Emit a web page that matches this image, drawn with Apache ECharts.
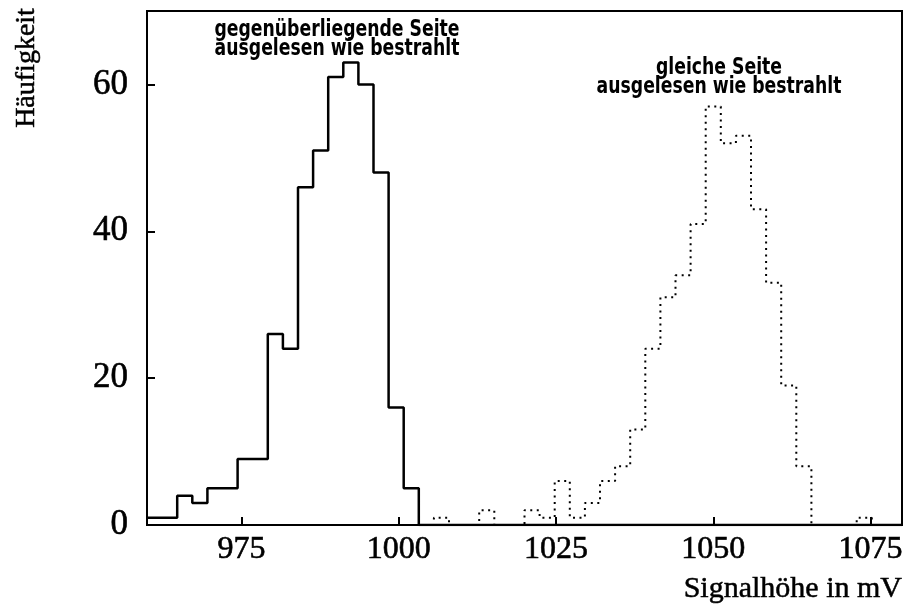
<!DOCTYPE html>
<html>
<head>
<meta charset="utf-8">
<script src="https://cdn.jsdelivr.net/npm/echarts@6/dist/echarts.min.js"></script>
<style>
  html, body { margin: 0; padding: 0; background: #fff; }
  #chart { width: 907px; height: 610px; }
</style>
</head>
<body>
<div id="chart"></div>
<script>
// Signal-height histograms: 50 bins of 2.4 mV from 960 to 1080 mV
const binStart = 960;
const binWidth = 2.4;

// read out on the side opposite to the irradiated one (solid)
const countsOpposite = [
  1, 1, 4, 3, 5, 5, 9, 9, 26, 24,
  46, 51, 61, 63, 60, 48, 16, 5, 0, 0,
  0, 0, 0, 0, 0, 0, 0, 0, 0, 0,
  0, 0, 0, 0, 0, 0, 0, 0, 0, 0,
  0, 0, 0, 0, 0, 0, 0, 0, 0, 0
];

// read out on the irradiated side (dotted)
const countsSame = [
  0, 0, 0, 0, 0, 0, 0, 0, 0, 0,
  0, 0, 0, 0, 0, 0, 0, 0, 0, 1,
  0, 0, 2, 0, 0, 2, 1, 6, 1, 3,
  6, 8, 13, 24, 31, 34, 41, 57, 52, 53,
  43, 33, 19, 8, 0, 0, 0, 1, 0, 0
];

const xTicks = [975, 1000, 1025, 1050, 1075];
const yTicks = [0, 20, 40, 60];

const xTitle = 'Signalhöhe in mV';
const yTitle = 'Häufigkeit';
const noteOpposite = ['gegenüberliegende Seite', 'ausgelesen wie bestrahlt'];
const noteSame = ['gleiche Seite', 'ausgelesen wie bestrahlt'];

// turn bin contents into step-line points at the bin edges
function histPoints(counts) {
  const pts = counts.map((c, i) => [+(binStart + i * binWidth).toFixed(2), c]);
  pts.push([+(binStart + counts.length * binWidth).toFixed(2), counts[counts.length - 1]]);
  return pts;
}

const serif = '"Liberation Serif", "Times New Roman", "DejaVu Serif", serif';
const sans = '"DejaVu Sans", sans-serif';

const chart = echarts.init(document.getElementById('chart'), null, { renderer: 'canvas' });

// narrow bold caption line, horizontally squeezed around its centre
function noteText(str, x, y) {
  return {
    type: 'text',
    x: x, y: y,
    scaleX: 0.75,
    style: {
      text: str,
      fill: '#000',
      font: 'bold 23px ' + sans,
      textAlign: 'center',
      textVerticalAlign: 'middle'
    }
  };
}

const plain = v => String(v);

chart.setOption({
  backgroundColor: '#fff',
  animation: false,
  grid: {
    left: 147, right: 5, top: 11, bottom: 85,
    show: true, borderColor: '#000', borderWidth: 2
  },
  xAxis: {
    type: 'value',
    min: 960, max: 1080,
    splitLine: { show: false },
    axisLine: { lineStyle: { color: '#000', width: 2 } },
    axisTick: { inside: true, length: 8, customValues: xTicks, lineStyle: { color: '#000', width: 2 } },
    axisLabel: {
      customValues: xTicks,
      formatter: plain,
      color: '#000', fontFamily: serif, fontSize: 32, margin: 9,
      textBorderColor: '#000', textBorderWidth: 0.6
    }
  },
  yAxis: {
    type: 'value',
    min: 0, max: 70,
    splitLine: { show: false },
    axisLine: { show: true, lineStyle: { color: '#000', width: 2 } },
    axisTick: { show: true, inside: true, length: 8, customValues: yTicks, lineStyle: { color: '#000', width: 2 } },
    axisLabel: {
      customValues: yTicks,
      formatter: plain,
      color: '#000', fontFamily: serif, fontSize: 35, margin: 19,
      textBorderColor: '#000', textBorderWidth: 0.6
    }
  },
  series: [
    {
      name: noteOpposite.join(' '),
      type: 'line',
      step: 'end',
      symbol: 'none',
      data: histPoints(countsOpposite),
      lineStyle: { color: '#000', width: 2.5 }
    },
    {
      name: noteSame.join(' '),
      type: 'line',
      step: 'end',
      symbol: 'none',
      data: histPoints(countsSame),
      lineStyle: { color: '#000', width: 2, type: [2, 4.5] }
    }
  ],
  graphic: [
    noteText(noteOpposite[0], 337, 30),
    noteText(noteOpposite[1], 337, 49),
    noteText(noteSame[0], 719, 68),
    noteText(noteSame[1], 719, 87),
    {
      type: 'text',
      x: 27, y: 68,
      rotation: Math.PI / 2,
      style: {
        text: yTitle, fill: '#000', font: '28px ' + serif,
        textAlign: 'center', textVerticalAlign: 'middle',
        stroke: '#000', lineWidth: 0.5
      }
    },
    {
      type: 'text',
      x: 902, y: 589,
      style: {
        text: xTitle, fill: '#000', font: '30px ' + serif,
        textAlign: 'right', textVerticalAlign: 'middle',
        stroke: '#000', lineWidth: 0.5
      }
    }
  ]
});
</script>
</body>
</html>
